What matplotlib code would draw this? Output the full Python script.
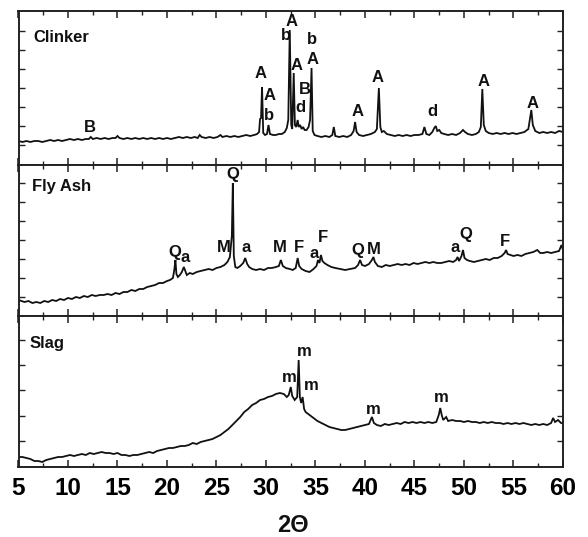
import matplotlib
matplotlib.use("Agg")
import matplotlib.pyplot as plt
from matplotlib.ticker import MultipleLocator, FixedLocator

plt.rcParams['font.family'] = ['Liberation Sans', 'DejaVu Sans']
plt.rcParams['font.weight'] = 'bold'

# ---------------- data (intensity in arbitrary units) ----------------
clinker_2theta = [5.0, 5.4, 5.8, 6.2, 6.6, 7.0, 7.4, 7.8, 8.2, 8.6, 9.0, 9.4, 9.8, 10.2, 10.6, 11.0, 11.4, 11.8,
                  12.1, 12.3, 12.5, 12.9, 13.3, 13.7, 14.1, 14.5, 14.8, 15.0, 15.2, 15.6, 16.0, 16.4, 16.8, 17.2,
                  17.6, 18.0, 18.4, 18.8, 19.2, 19.6, 20.0, 20.4, 20.8, 21.2, 21.6, 22.0, 22.4, 22.8, 23.1, 23.3,
                  23.5, 23.9, 24.3, 24.7, 25.1, 25.4, 25.6, 26.0, 26.4, 26.8, 27.2, 27.6, 28.0, 28.4, 28.8, 29.1,
                  29.3, 29.4, 29.5, 29.6, 29.72, 29.9, 30.1, 30.25, 30.4, 30.7, 31.0, 31.3, 31.6, 31.9, 32.1, 32.25,
                  32.4, 32.55, 32.65, 32.8, 32.92, 33.05, 33.2, 33.3, 33.45, 33.6, 33.75, 33.9, 34.1, 34.3, 34.45,
                  34.6, 34.72, 34.9, 35.2, 35.6, 36.0, 36.4, 36.7, 36.85, 37.0, 37.4, 37.8, 38.2, 38.6, 38.85, 39.0,
                  39.15, 39.4, 39.8, 40.2, 40.6, 41.0, 41.2, 41.4, 41.55, 41.7, 41.9, 42.2, 42.6, 43.0, 43.4, 43.8,
                  44.2, 44.6, 45.0, 45.4, 45.8, 46.0, 46.2, 46.5, 46.8, 47.0, 47.15, 47.3, 47.5, 47.7, 48.0, 48.4,
                  48.8, 49.2, 49.6, 49.9, 50.1, 50.4, 50.8, 51.2, 51.5, 51.7, 51.85, 52.0, 52.2, 52.5, 52.9, 53.3,
                  53.7, 54.1, 54.5, 54.9, 55.3, 55.7, 56.1, 56.5, 56.8, 56.95, 57.2, 57.6, 58.0, 58.4, 58.8, 59.2,
                  59.6, 60.0]
clinker_int = [24, 23, 24, 23, 24, 24, 23, 24, 25, 24, 25, 24, 25, 26, 25, 26, 25, 26,
               26, 28, 26, 27, 26, 27, 26, 27, 27, 29, 27, 26, 27, 26, 27, 26,
               27, 26, 27, 26, 27, 26, 27, 26, 27, 28, 27, 28, 27, 28, 27, 30,
               28, 27, 28, 27, 28, 30, 28, 29, 28, 29, 28, 29, 30, 29, 30, 31,
               33, 46, 47, 78, 32, 30, 31, 40, 31, 30, 30, 31, 31, 33, 37, 45,
               135, 40, 36, 92, 40, 38, 45, 38, 40, 36, 38, 35, 35, 38, 45,
               97, 34, 30, 29, 28, 29, 28, 30, 38, 29, 28, 29, 28, 30, 34, 43,
               33, 30, 29, 30, 31, 33, 36, 77, 38, 33, 34, 31, 30, 29, 30, 29,
               30, 29, 30, 30, 31, 38, 31, 30, 33, 37, 39, 34, 35, 32, 31, 30,
               31, 30, 32, 35, 33, 31, 30, 31, 33, 38, 76, 40, 34, 32, 31, 32,
               31, 32, 31, 32, 31, 32, 33, 36, 55, 40, 34, 32, 33, 32, 33, 32,
               34, 33]

flyash_2theta = [5.0, 5.3, 5.6, 6.0, 6.4, 6.8, 7.2, 7.6, 8.0, 8.4, 8.8, 9.2, 9.6, 10.0, 10.4, 10.8, 11.2, 11.6,
                 12.0, 12.4, 12.8, 13.2, 13.6, 14.0, 14.4, 14.8, 15.2, 15.6, 16.0, 16.4, 16.8, 17.2, 17.6, 18.0,
                 18.4, 18.8, 19.2, 19.6, 20.0, 20.3, 20.6, 20.75, 20.85, 20.95, 21.1, 21.3, 21.5, 21.7, 21.85, 22.0,
                 22.3, 22.6, 23.0, 23.4, 23.8, 24.2, 24.6, 25.0, 25.4, 25.8, 26.1, 26.35, 26.55, 26.65, 26.75, 26.9,
                 27.1, 27.4, 27.7, 27.9, 28.1, 28.3, 28.6, 29.0, 29.4, 29.8, 30.2, 30.6, 31.0, 31.3, 31.5, 31.7,
                 32.0, 32.4, 32.7, 33.0, 33.2, 33.35, 33.6, 34.0, 34.4, 34.8, 35.1, 35.25, 35.4, 35.55, 35.7, 35.9,
                 36.2, 36.6, 37.0, 37.5, 38.0, 38.5, 39.0, 39.3, 39.5, 39.7, 40.0, 40.4, 40.7, 40.85, 41.0, 41.3,
                 41.7, 42.1, 42.5, 42.9, 43.3, 43.7, 44.1, 44.5, 44.9, 45.3, 45.7, 46.1, 46.5, 46.9, 47.3, 47.7,
                 48.1, 48.5, 48.9, 49.2, 49.35, 49.5, 49.75, 49.9, 50.05, 50.3, 50.6, 51.0, 51.4, 51.8, 52.2, 52.6,
                 53.0, 53.4, 53.8, 54.1, 54.25, 54.4, 54.7, 55.0, 55.4, 55.8, 56.2, 56.6, 57.0, 57.4, 57.7, 58.0,
                 58.4, 58.8, 59.2, 59.6, 59.85, 60.0]
flyash_int = [16, 15, 14, 15, 13, 14, 13, 15, 14, 16, 15, 17, 16, 18, 17, 19, 18, 20,
              19, 21, 20, 21, 21, 22, 21, 23, 22, 24, 24, 26, 25, 27, 27, 29,
              30, 31, 33, 33, 35, 36, 38, 47, 56, 42, 39, 41, 44, 49, 45, 41,
              43, 42, 44, 45, 46, 47, 46, 48, 49, 51, 54, 59, 80, 133, 60, 49,
              48, 50, 53, 58, 52, 49, 47, 46, 47, 46, 48, 48, 49, 50, 56, 50,
              48, 47, 46, 48, 58, 50, 47, 45, 44, 47, 50, 56, 53, 61, 55, 53,
              51, 49, 48, 47, 46, 47, 48, 51, 56, 51, 50, 52, 56, 59, 54, 50,
              49, 51, 50, 51, 52, 51, 52, 51, 53, 52, 53, 54, 53, 54, 53, 53,
              54, 55, 54, 56, 59, 55, 60, 66, 58, 56, 55, 54, 55, 56, 57, 56,
              58, 58, 60, 63, 66, 62, 61, 60, 61, 60, 62, 63, 64, 66, 63, 63,
              64, 63, 64, 65, 71, 66]

slag_2theta = [5.0, 5.4, 5.8, 6.2, 6.6, 7.0, 7.4, 7.8, 8.2, 8.6, 9.0, 9.4, 9.8, 10.2, 10.6, 11.0, 11.4, 11.8,
               12.2, 12.6, 13.0, 13.4, 13.8, 14.2, 14.6, 15.0, 15.4, 15.8, 16.2, 16.6, 17.0, 17.4, 17.8, 18.2,
               18.6, 19.0, 19.4, 19.8, 20.2, 20.6, 21.0, 21.4, 21.8, 22.2, 22.6, 23.0, 23.4, 23.8, 24.2, 24.6,
               25.0, 25.4, 25.8, 26.2, 26.6, 27.0, 27.4, 27.8, 28.2, 28.6, 29.0, 29.4, 29.8, 30.2, 30.6, 31.0,
               31.4, 31.8, 32.1, 32.3, 32.5, 32.65, 32.9, 33.15, 33.3, 33.42, 33.55, 33.7, 33.85, 34.0, 34.4, 34.8,
               35.2, 35.6, 36.0, 36.4, 36.8, 37.2, 37.6, 38.0, 38.4, 38.8, 39.2, 39.6, 40.0, 40.4, 40.7, 40.9,
               41.2, 41.6, 42.0, 42.4, 42.8, 43.2, 43.6, 44.0, 44.4, 44.8, 45.2, 45.6, 46.0, 46.4, 46.8, 47.2,
               47.45, 47.6, 47.75, 47.9, 48.2, 48.4, 48.8, 49.2, 49.6, 50.0, 50.4, 50.8, 51.2, 51.6, 52.0, 52.4,
               52.8, 53.2, 53.6, 54.0, 54.4, 54.8, 55.2, 55.6, 56.0, 56.4, 56.8, 57.2, 57.6, 58.0, 58.4, 58.8,
               59.0, 59.2, 59.5, 59.8, 60.0]
slag_int = [10, 10, 9, 8, 6, 6, 5, 7, 8, 9, 10, 10, 11, 12, 11, 12, 13, 12,
            14, 13, 14, 15, 14, 14, 13, 14, 12, 12, 11, 12, 12, 13, 14, 15,
            14, 16, 17, 18, 19, 19, 20, 21, 21, 22, 24, 23, 25, 26, 27, 28,
            30, 32, 35, 38, 42, 46, 50, 55, 58, 62, 64, 67, 68, 70, 71, 73,
            74, 73, 70, 72, 80, 71, 67, 70, 107, 70, 64, 70, 58, 55, 52, 49,
            46, 44, 42, 40, 39, 38, 37, 37, 38, 39, 40, 41, 42, 43, 50, 44,
            42, 41, 43, 42, 43, 44, 43, 45, 44, 45, 44, 45, 44, 45, 44, 45,
            52, 59, 52, 47, 50, 46, 47, 46, 46, 45, 46, 45, 45, 44, 45, 44,
            45, 44, 44, 43, 44, 43, 44, 43, 44, 43, 42, 43, 42, 43, 42, 44,
            49, 45, 47, 44, 44]

# peak annotations: (text, 2theta, intensity)
clinker_labels = [("B", 12.2, 38), ("A", 29.5, 92), ("A", 30.4, 70), ("b", 30.3, 50), ("b", 32.0, 130),
                  ("A", 32.6, 143), ("A", 33.1, 100), ("B", 33.9, 76), ("d", 33.5, 57), ("b", 34.6, 125),
                  ("A", 34.75, 105), ("A", 39.2, 53), ("A", 41.3, 87), ("d", 46.8, 53), ("A", 52.0, 84),
                  ("A", 56.9, 62)]
flyash_labels = [("Q", 20.75, 63), ("a", 21.8, 58), ("M", 25.7, 68), ("Q", 26.6, 142), ("a", 27.95, 68),
                 ("M", 31.35, 68), ("F", 33.3, 68), ("a", 34.9, 63), ("F", 35.8, 78), ("Q", 39.3, 65),
                 ("M", 40.85, 67), ("a", 49.1, 68), ("Q", 50.2, 81), ("F", 54.1, 74)]
slag_labels = [("m", 32.35, 90), ("m", 33.9, 115), ("m", 34.55, 81), ("m", 40.8, 58), ("m", 47.75, 70)]

panel_names = ["Clinker", "Fly Ash", "Slag"]
xticks = [5, 10, 15, 20, 25, 30, 35, 40, 45, 50, 55, 60]
xlabel = "2Θ"

# ---------------- layout ----------------
W, H = 588, 537
fig = plt.figure(figsize=(W / 100, H / 100), dpi=100)
left = 18.5 / W
width = (563 - 18.5) / W
panels = [  # (top_px, bottom_px)
    (11, 165), (165, 316), (316, 467)
]
yticks_all = [
    [20, 39, 58, 77, 96, 115, 134],
    [19, 38, 57, 76, 95, 114, 133],
    [26, 51, 77, 102, 127],
]
series = [(clinker_2theta, clinker_int, clinker_labels),
          (flyash_2theta, flyash_int, flyash_labels),
          (slag_2theta, slag_int, slag_labels)]
name_pos = [(0.027, 0.828), (0.024, 0.86), (0.021, 0.82)]

for i, ((top, bot), (xs, ys, labs)) in enumerate(zip(panels, series)):
    ax = fig.add_axes([left, (H - bot) / H, width, (bot - top) / H])
    ax.plot(xs, ys, color="#111111", lw=1.3, solid_joinstyle="miter")
    ax.set_xlim(5, 60)
    ax.set_ylim(0, bot - top)
    ax.xaxis.set_major_locator(FixedLocator(xticks))
    ax.xaxis.set_minor_locator(MultipleLocator(2.5))
    ax.yaxis.set_major_locator(FixedLocator(yticks_all[i]))
    ax.tick_params(axis="x", which="major", direction="in", top=True, bottom=True,
                   length=5, width=1.1, color="#222222")
    ax.tick_params(axis="x", which="minor", direction="in", top=True, bottom=True,
                   length=2.8, width=1.0, color="#222222")
    ax.tick_params(axis="y", which="major", direction="in", left=True, right=True,
                   length=4.5, width=1.0, color="#222222", labelleft=False)
    for sp in ax.spines.values():
        sp.set_linewidth(1.4)
        sp.set_color("#222222")
    if i < 2:
        ax.tick_params(axis="x", labelbottom=False)
    else:
        ax.set_xticklabels([str(t) for t in xticks])
        ax.tick_params(axis="x", which="major", labelsize=17.5, pad=7)
        for lab in ax.get_xticklabels():
            lab.set_fontweight("bold")
    ax.text(name_pos[i][0], name_pos[i][1], panel_names[i], transform=ax.transAxes,
            fontsize=12, fontweight="bold", ha="left", va="center", color="#111111")
    for t, x, y in labs:
        ax.text(x, y, t, fontsize=12, fontweight="bold", ha="center", va="center", color="#111111")
    ax.set_facecolor("white")

fig.text(293 / W, (H - 526) / H, xlabel, fontsize=17, fontweight="bold", ha="center", va="center",
         color="#111111")
fig.savefig("out.png", dpi=100, facecolor="white")
